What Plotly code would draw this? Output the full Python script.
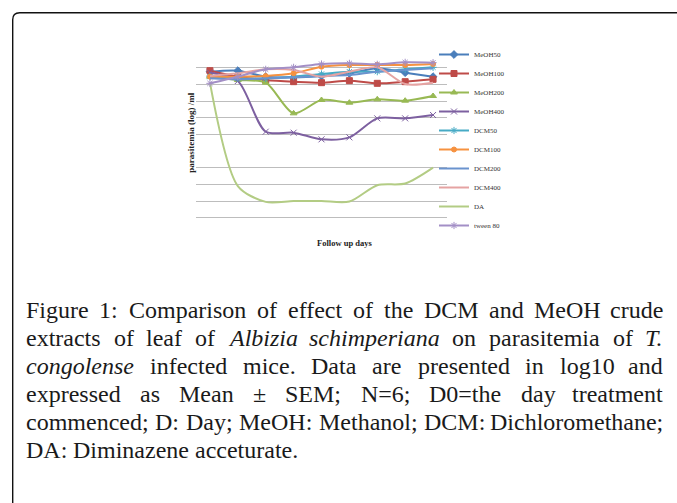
import plotly.graph_objects as go

W, H = 677, 503

# ---------------- data ----------------
days = [0, 1, 2, 3, 4, 5, 6, 7, 8]
series_names = ["MeOH50", "MeOH100", "MeOH200", "MeOH400", "DCM50",
                "DCM100", "DCM200", "DCM400", "DA", "tween 80"]
meoh50 = [8.76, 8.82, 8.46, 8.42, 8.50, 8.66, 8.96, 8.70, 8.46]
meoh100 = [8.82, 8.46, 8.26, 8.16, 8.10, 8.22, 8.06, 8.16, 8.30]
meoh200 = [8.46, 8.26, 8.10, 6.26, 7.06, 6.90, 7.10, 7.02, 7.30]
meoh400 = [8.70, 8.20, 5.16, 5.10, 4.70, 4.82, 5.96, 5.96, 6.16]
dcm50 = [8.46, 8.36, 8.36, 8.46, 8.62, 8.76, 8.76, 8.90, 9.02]
dcm100 = [8.46, 8.46, 8.50, 8.66, 9.06, 9.16, 9.16, 9.16, 9.22]
dcm200 = [8.36, 8.30, 8.36, 8.42, 8.50, 8.56, 8.76, 8.86, 8.96]
dcm400 = [8.50, 8.66, 8.90, 8.86, 8.46, 8.76, 9.02, 8.02, 8.10]
da = [8.10, 1.90, 0.95, 1.00, 1.00, 0.97, 1.95, 2.05, 3.00]
tween80 = [8.06, 8.46, 8.90, 9.02, 9.22, 9.26, 9.20, 9.32, 9.30]
grid_vals = [0, 1, 2, 3, 5, 6, 7, 8, 9]

values = [meoh50, meoh100, meoh200, meoh400, dcm50,
          dcm100, dcm200, dcm400, da, tween80]
colors = ["#4A7EBB", "#BE4B48", "#98B954", "#7D60A0", "#46AAC5",
          "#F69240", "#6A93CE", "#E5A3A2", "#B3CC84", "#A38FC6"]
symbols = ["diamond", "square", "triangle-up", "x-thin-open", "asterisk-open",
           "circle", None, None, None, "asterisk-open"]

caption_lines = [
    "Figure 1: Comparison of effect of the DCM and MeOH crude",
    "extracts of leaf of <i>Albizia</i> <i>schimperiana</i> on parasitemia of <i>T.</i>",
    "<i>congolense</i> infected mice. Data are presented in log10 and",
    "expressed as Mean ± SEM; N=6; D0=the day treatment",
    "commenced; D: Day; MeOH: Methanol; DCM: Dichloromethane;",
    "DA: Diminazene acceturate.",
]


def px(x):
    return x / W


def py(y):
    return 1 - y / H


fig = go.Figure()
for name, vals, col, sym in zip(series_names, values, colors, symbols):
    mk = dict(size=6, color=col, line=dict(width=1, color=col))
    if sym is None:
        mode = "lines"
    else:
        mode = "lines+markers"
        mk["symbol"] = sym
        if sym == "circle":
            mk["size"] = 5
    fig.add_trace(go.Scatter(
        x=days, y=vals, name=name, mode=mode,
        line=dict(color=col, width=2, shape="spline", smoothing=0.8),
        marker=mk,
    ))

# plot area in pixels
x_left, x_right = 196, 447
unit = 16.67
y0_px = 217.7
ymin, ymax = -0.3, 10.0
yb = y0_px - ymin * unit
yt = y0_px - ymax * unit

fig.update_layout(
    width=W, height=H,
    margin=dict(l=0, r=0, t=0, b=0),
    paper_bgcolor="white", plot_bgcolor="white",
    showlegend=True,
    xaxis=dict(domain=[px(x_left), px(x_right)], range=[-0.5, 8.5],
               showgrid=False, zeroline=False, showticklabels=False,
               showline=False, ticks=""),
    yaxis=dict(domain=[py(yb), py(yt)], range=[ymin, ymax],
               tickvals=grid_vals, showticklabels=False, ticks="",
               showgrid=True, gridcolor="#BDBDBD", gridwidth=1.3,
               zeroline=False, showline=False),
    legend=dict(x=px(434), y=py(40), xanchor="left", yanchor="top",
                font=dict(family="Liberation Serif", size=7, color="#333333"),
                bgcolor="rgba(0,0,0,0)", itemwidth=30, tracegroupgap=0),
    font=dict(family="Liberation Serif"),
)

# axis titles
fig.add_annotation(x=px(190.7), y=py(133), xref="paper", yref="paper",
                   text="<b>parasitemia (log) /ml</b>", textangle=-90,
                   showarrow=False, font=dict(family="Liberation Serif", size=9, color="#222"),
                   xanchor="center", yanchor="middle")
fig.add_annotation(x=px(344), y=py(243), xref="paper", yref="paper",
                   text="<b>Follow up days</b>", showarrow=False,
                   font=dict(family="Liberation Serif", size=8.5, color="#222"),
                   xanchor="center", yanchor="middle")

# ---------------- caption (justified, word by word) ----------------
roman = dict(zip("abcdefghijklmnopqrstuvwxyz",
                 [444, 500, 444, 500, 444, 333, 500, 500, 278, 278, 500, 278, 778,
                  500, 500, 500, 500, 333, 389, 278, 500, 500, 722, 500, 500, 444]))
roman.update(dict(zip("ABCDEFGHIJKLMNOPQRSTUVWXYZ",
                      [722, 667, 667, 722, 611, 556, 722, 722, 333, 389, 722, 611, 889,
                       722, 722, 556, 722, 667, 556, 611, 722, 722, 944, 722, 722, 611])))
roman.update({c: 500 for c in "0123456789"})
roman.update({".": 250, ",": 250, ":": 278, ";": 278, "=": 564, "±": 564, " ": 250})
italic = dict(zip("abcdefghijklmnopqrstuvwxyz",
                  [500, 500, 444, 500, 444, 278, 500, 500, 278, 278, 444, 278, 722,
                   500, 500, 500, 500, 389, 389, 278, 500, 444, 667, 444, 444, 389]))
italic.update({"A": 611, "T": 556, ".": 250})

FS = 24
cap_left, cap_right = 25, 664
baselines = [318, 346, 374, 402, 430, 458]


def word_width(w):
    if w.startswith("<i>"):
        t = w[3:-4]
        return sum(italic.get(c, 500) for c in t) * FS / 1000
    return sum(roman.get(c, 500) for c in w) * FS / 1000


for i, (line, base) in enumerate(zip(caption_lines, baselines)):
    words = line.split(" ")
    widths = [word_width(w) for w in words]
    last = i == len(caption_lines) - 1
    if last:
        gap = 250 * FS / 1000
    else:
        gap = (cap_right - cap_left - sum(widths)) / (len(words) - 1)
    xcur = cap_left
    yc = base - 8
    for j, (w, wd) in enumerate(zip(words, widths)):
        if (not last) and j == len(words) - 1:
            xa, xx = "right", cap_right
        else:
            xa, xx = "left", xcur
        fig.add_annotation(x=px(xx), y=py(yc), xref="paper", yref="paper",
                           text=w, showarrow=False, xanchor=xa, yanchor="middle",
                           borderpad=0,
                           font=dict(family="Liberation Serif", size=FS, color="#1a1a1a"))
        xcur += wd + gap

# ---------------- frame (rounded top-left, open to right/bottom) ----------------
fx, fy, r = 12.7, 12.7, 7
path = (f"M {px(fx)},{py(H + 5)} L {px(fx)},{py(fy + r)} "
        f"Q {px(fx)},{py(fy)} {px(fx + r)},{py(fy)} L {px(W + 5)},{py(fy)}")
fig.add_shape(type="path", path=path, xref="paper", yref="paper",
              line=dict(color="#111111", width=1.4))

fig.write_html("out.html",
               config={"displayModeBar": False},
               post_script="document.body.style.margin='0px';"
                           "document.body.style.overflow='hidden';")
